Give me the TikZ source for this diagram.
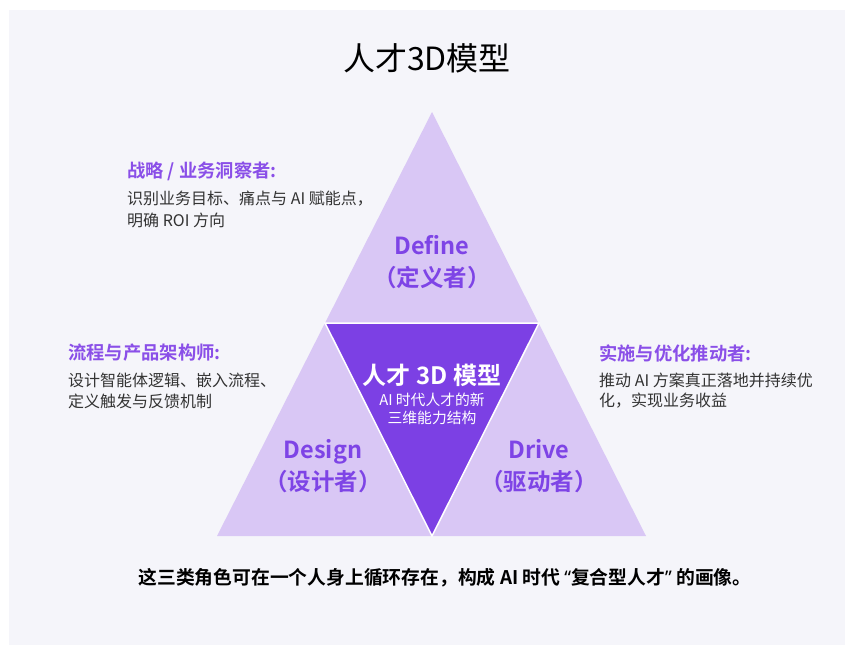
\documentclass[tikz,border=0pt]{standalone}
\usepackage{fontspec}
\setmainfont{Noto Sans CJK SC}[BoldFont={Noto Sans CJK SC Bold}]
\newfontfamily\latq{Noto Sans}
\definecolor{bgc}{HTML}{F5F5FA}
\definecolor{lightp}{HTML}{D9C7F5}
\definecolor{darkp}{HTML}{7C40E4}
\definecolor{headp}{HTML}{8A4FE8}
\definecolor{labp}{HTML}{7E44E6}
\definecolor{bodyg}{HTML}{333333}
\tikzset{
  headtxt/.style={anchor=west, inner sep=0pt, text=headp, font=\fontsize{18.3}{22}\selectfont\bfseries},
  bodytxt/.style={anchor=west, inner sep=0pt, text=bodyg, align=left, font=\fontsize{16}{22}\selectfont},
  rolelab/.style={inner sep=0pt, text=labp, align=center, font=\fontsize{23.5}{32}\selectfont\bfseries},
}
\begin{document}
\begin{tikzpicture}[x=1pt,y=-1pt]
\useasboundingbox (0,0) rectangle (845,645);
\fill[white] (0,0) rectangle (845,645);
\fill[bgc] (9,10) rectangle (845,645);
% triangles
\coordinate (apex) at (432,112);
\coordinate (bl) at (217,536);
\coordinate (br) at (646,536);
\coordinate (ml) at (325,323);
\coordinate (mr) at (539,323);
\coordinate (bm) at (432,536);
\fill[lightp] (apex) -- (br) -- (bl) -- cycle;
\filldraw[fill=darkp, draw=white, line width=1.5pt, line join=miter] (ml) -- (mr) -- (bm) -- cycle;
% title
\node[inner sep=0pt, font=\fontsize{32}{38}\selectfont, text=black] (title) at (427,58) {人才3D模型};
% top-left text
\node[headtxt] (h1) at (127,171) {战略 / 业务洞察者:};
\node[bodytxt] (b1a) at (127,199) {识别业务目标、痛点与 AI 赋能点，};
\node[bodytxt] (b1b) at (127,220) {明确 ROI 方向};
% left text
\node[headtxt] (h2) at (68,353) {流程与产品架构师:};
\node[bodytxt] (b2a) at (68,380) {设计智能体逻辑、嵌入流程、};
\node[bodytxt] (b2b) at (68,401) {定义触发与反馈机制};
% right text
\node[headtxt] (h3) at (599,353) {实施与优化推动者:};
\node[bodytxt] (b3a) at (599,380) {推动 AI 方案真正落地并持续优};
\node[bodytxt] (b3b) at (599,401) {化，实现业务收益};
% role labels
\node[rolelab] (def) at (432,262) {Define\\（定义者）};
\node[rolelab] (des) at (323,466) {Design\\（设计者）};
\node[rolelab] (drv) at (539,466) {Drive\\（驱动者）};
% center
\node[inner sep=0pt, text=white, font=\fontsize{24}{28}\selectfont\bfseries] (ctitle) at (432,375) {人才 3D 模型};
\node[inner sep=0pt, text=white, align=center, font=\fontsize{14.8}{18}\selectfont] (csub) at (432,409) {AI 时代人才的新\\三维能力结构};
% bottom
\node[inner sep=0pt, text=black, font=\fontsize{18.8}{22}\selectfont\bfseries] (foot) at (445,578) {这三类角色可在一个人身上循环存在，构成 AI 时代 {\latq “}复合型人才{\latq ”} 的画像。};
\end{tikzpicture}
\end{document}
